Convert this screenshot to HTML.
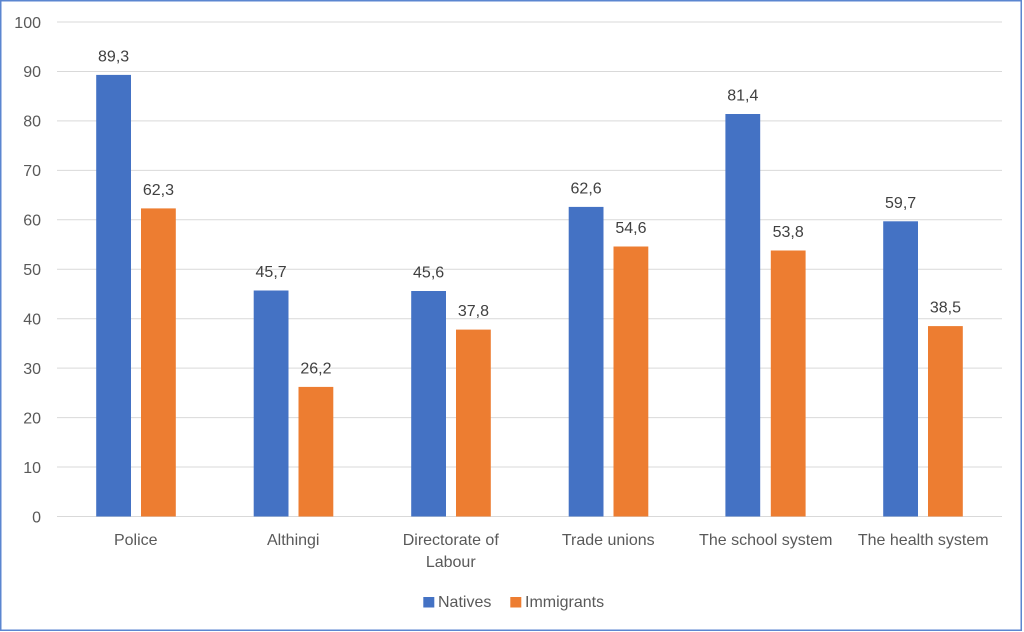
<!DOCTYPE html>
<html>
<head>
<meta charset="utf-8">
<style>
  html,body{margin:0;padding:0;background:#fff;}
  svg{display:block;}
  text{font-family:"Liberation Sans",sans-serif;font-size:16px;}
</style>
</head>
<body>
<svg width="1024" height="632" viewBox="0 0 1024 632" xmlns="http://www.w3.org/2000/svg">
  <rect x="0" y="0" width="1024" height="632" fill="#fff"/>
  <rect x="0.75" y="0.75" width="1020.5" height="629.5" fill="none" stroke="#5B86D0" stroke-width="1.5"/>

  <!-- gridlines -->
  <g stroke="#D9D9D9" stroke-width="1">
    <line x1="57" x2="1002" y1="22" y2="22"/>
    <line x1="57" x2="1002" y1="71.45" y2="71.45"/>
    <line x1="57" x2="1002" y1="120.9" y2="120.9"/>
    <line x1="57" x2="1002" y1="170.35" y2="170.35"/>
    <line x1="57" x2="1002" y1="219.8" y2="219.8"/>
    <line x1="57" x2="1002" y1="269.25" y2="269.25"/>
    <line x1="57" x2="1002" y1="318.7" y2="318.7"/>
    <line x1="57" x2="1002" y1="368.15" y2="368.15"/>
    <line x1="57" x2="1002" y1="417.6" y2="417.6"/>
    <line x1="57" x2="1002" y1="467.05" y2="467.05"/>
    <line x1="57" x2="1002" y1="516.5" y2="516.5"/>
  </g>

  <!-- y tick labels -->
  <g fill="#595959" text-anchor="end">
    <text x="41" y="27.8">100</text>
    <text x="41" y="77.2">90</text>
    <text x="41" y="126.7">80</text>
    <text x="41" y="176.1">70</text>
    <text x="41" y="225.6">60</text>
    <text x="41" y="275">50</text>
    <text x="41" y="324.5">40</text>
    <text x="41" y="373.9">30</text>
    <text x="41" y="423.4">20</text>
    <text x="41" y="472.8">10</text>
    <text x="41" y="522.3">0</text>
  </g>

  <!-- bars: y0=516.5, scale 4.945 px/unit -->
  <g fill="#4472C4">
    <rect x="96.2" y="74.9" width="34.8" height="441.6"/>
    <rect x="253.7" y="290.5" width="34.8" height="226"/>
    <rect x="411.2" y="291" width="34.8" height="225.5"/>
    <rect x="568.7" y="206.9" width="34.8" height="309.6"/>
    <rect x="725.4" y="114" width="34.8" height="402.5"/>
    <rect x="883.2" y="221.3" width="34.8" height="295.2"/>
  </g>
  <g fill="#ED7D31">
    <rect x="141" y="208.4" width="34.8" height="308.1"/>
    <rect x="298.5" y="386.9" width="34.8" height="129.6"/>
    <rect x="456" y="329.6" width="34.8" height="186.9"/>
    <rect x="613.5" y="246.5" width="34.8" height="270"/>
    <rect x="770.8" y="250.5" width="34.8" height="266"/>
    <rect x="928" y="326.1" width="34.8" height="190.4"/>
  </g>

  <!-- data labels -->
  <g fill="#404040" text-anchor="middle">
    <text x="113.6" y="61.4">89,3</text>
    <text x="158.4" y="194.9">62,3</text>
    <text x="271.1" y="277">45,7</text>
    <text x="315.9" y="373.4">26,2</text>
    <text x="428.6" y="277.5">45,6</text>
    <text x="473.4" y="316.1">37,8</text>
    <text x="586.1" y="193.4">62,6</text>
    <text x="630.9" y="233">54,6</text>
    <text x="742.8" y="100.5">81,4</text>
    <text x="788.2" y="237">53,8</text>
    <text x="900.6" y="207.8">59,7</text>
    <text x="945.4" y="312.6">38,5</text>
  </g>

  <!-- category labels -->
  <g fill="#595959" text-anchor="middle">
    <text x="135.75" y="545">Police</text>
    <text x="293.25" y="545">Althingi</text>
    <text x="450.75" y="545">Directorate of</text>
    <text x="450.75" y="567">Labour</text>
    <text x="608.25" y="545">Trade unions</text>
    <text x="765.75" y="545">The school system</text>
    <text x="923.25" y="545">The health system</text>
  </g>

  <!-- legend -->
  <rect x="423.3" y="597" width="11" height="10.5" fill="#4472C4"/>
  <text x="438" y="606.8" fill="#595959">Natives</text>
  <rect x="510.3" y="597" width="11" height="10.5" fill="#ED7D31"/>
  <text x="525" y="606.8" fill="#595959">Immigrants</text>
</svg>
</body>
</html>
